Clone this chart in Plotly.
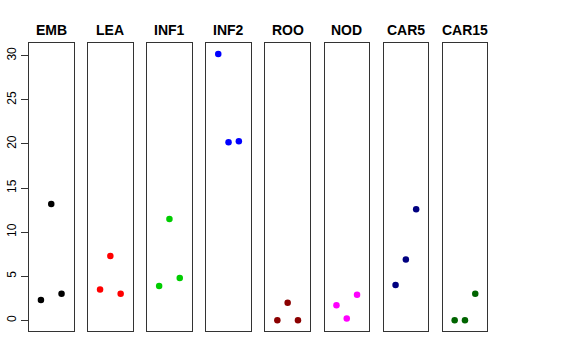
import plotly.graph_objects as go

panels = ["EMB", "LEA", "INF1", "INF2", "ROO", "NOD", "CAR5", "CAR15"]
colors = ["#000000", "#FF0000", "#00CD00", "#0000FF", "#8B0000", "#FF00FF", "#000080", "#006400"]
x_pos = [1, 2, 3]
values = {
    "EMB": [2.3, 13.2, 3.0],
    "LEA": [3.5, 7.3, 3.0],
    "INF1": [3.9, 11.5, 4.8],
    "INF2": [30.2, 20.2, 20.3],
    "ROO": [0.0, 2.0, 0.0],
    "NOD": [1.7, 0.2, 2.9],
    "CAR5": [4.0, 6.9, 12.6],
    "CAR15": [0.0, 0.0, 3.0],
}
y_ticks = [0, 5, 10, 15, 20, 25, 30]

W, H = 576, 360
fig = go.Figure()
left0, period, width = 29.0, 59.1, 44.5
ytop, ybot = 43.3, 331.0
ydom = [1 - ybot / H, 1 - ytop / H]

for i, name in enumerate(panels):
    n = "" if i == 0 else str(i + 1)
    l = left0 + i * period
    xd = [l / W, (l + width) / W]
    fig.add_trace(go.Scatter(
        x=x_pos, y=values[name], mode="markers",
        marker=dict(color=colors[i], size=6.5),
        xaxis="x" + n, yaxis="y" + n, showlegend=False, hoverinfo="skip"))
    fig.layout["xaxis" + n] = dict(
        domain=xd, range=[-0.16, 4.16], showticklabels=False, ticks="",
        showgrid=False, zeroline=False, showline=True, mirror=True,
        linecolor="#333333", linewidth=1, anchor="y" + n, fixedrange=True,
        automargin=False)
    yax = dict(
        domain=ydom, range=[-1.21, 31.41], showgrid=False, zeroline=False,
        showline=True, mirror=True, linecolor="#333333", linewidth=1,
        anchor="x" + n, fixedrange=True, automargin=False)
    if i == 0:
        yax.update(tickmode="array", tickvals=y_ticks,
                   ticktext=[str(v) for v in y_ticks], ticks="outside",
                   ticklen=7, tickcolor="#333333", tickangle=-90,
                   tickfont=dict(family="Liberation Sans", size=12, color="#000000"))
    else:
        yax.update(showticklabels=False, ticks="")
    fig.layout["yaxis" + n] = yax
    fig.add_annotation(
        x=(xd[0] + xd[1]) / 2, y=1 - 30 / H, xref="paper", yref="paper",
        text="<b>" + name + "</b>", showarrow=False, xanchor="center",
        yanchor="middle", font=dict(family="Liberation Sans", size=14, color="#000000"))

fig.update_layout(
    width=W, height=H, margin=dict(l=0, r=0, t=0, b=0),
    paper_bgcolor="white", plot_bgcolor="white")
fig.write_html("out.html", config={"displayModeBar": False, "staticPlot": True},
               post_script="document.body.style.margin='0px';")
